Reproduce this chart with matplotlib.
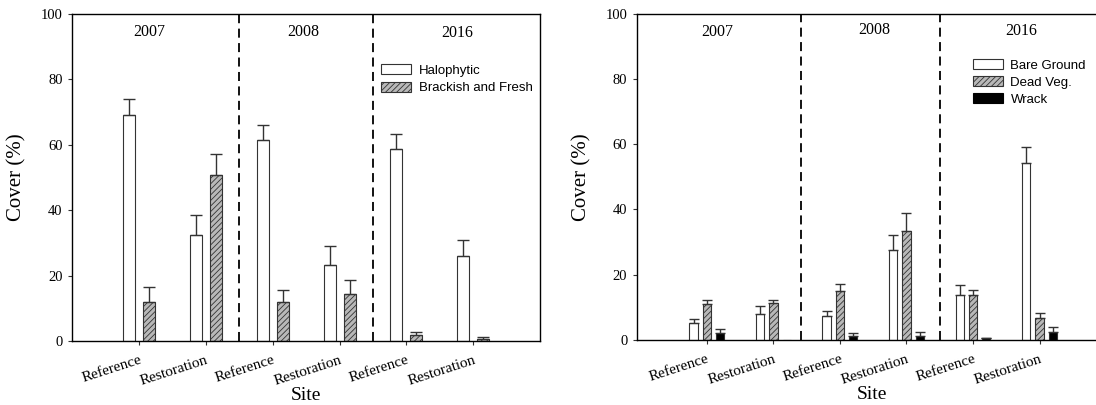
import numpy as np
import matplotlib
matplotlib.use("Agg")
import matplotlib.pyplot as plt

# sites along the x axis, two per year
site_labels = ["Reference", "Restoration", "Reference", "Restoration", "Reference", "Restoration"]
years = ["2007", "2008", "2016"]

# left panel: vegetation cover
halo = [69.0, 32.5, 61.5, 23.2, 58.5, 26.1]
halo_se = [4.8, 5.9, 4.4, 5.8, 4.8, 4.7]
brack = [11.8, 50.7, 11.8, 14.5, 1.8, 0.7]
brack_se = [4.6, 6.3, 3.7, 4.0, 1.0, 0.6]

# right panel: non-vegetated cover
bare = [5.2, 8.0, 7.4, 27.5, 13.7, 54.2]
bare_se = [1.3, 2.3, 1.5, 4.6, 3.1, 5.0]
dead = [10.9, 11.2, 15.1, 33.5, 13.7, 6.8]
dead_se = [1.3, 1.0, 2.1, 5.5, 1.6, 1.4]
wrack = [2.2, 0.0, 1.3, 1.3, 0.5, 2.4]
wrack_se = [1.2, 0.0, 0.8, 1.2, 0.1, 1.5]

SERIF = "Liberation Serif"
SANS = "Liberation Sans"
EDGE = "#333333"
HATCH_FILL = "#b8b8b8"

plt.rcParams["hatch.linewidth"] = 0.6


def draw_bars(ax, x, vals, se, width, face, hatch, capsize):
    ax.bar(x, vals, width, color=face, edgecolor=EDGE, linewidth=0.8,
           hatch=hatch, zorder=2)
    vals = np.asarray(vals)
    se = np.asarray(se)
    keep = vals > 0
    ax.errorbar(x[keep], vals[keep], yerr=[np.zeros(keep.sum()), se[keep]],
                fmt="none", ecolor=EDGE, elinewidth=1.0, capsize=capsize,
                capthick=1.0, zorder=3)


def style_axes(ax, divs, year_x, year_y, xlim):
    ax.set_xlim(*xlim)
    ax.set_ylim(0, 100)
    ax.set_yticks(np.arange(0, 101, 20))
    ax.set_yticklabels([str(v) for v in range(0, 101, 20)], family=SERIF, fontsize=10.5)
    ax.set_xticks(pos)
    ax.set_xticklabels(site_labels, rotation=18, ha="right", rotation_mode="anchor",
                       family=SERIF, fontsize=11)
    ax.tick_params(axis="both", direction="out", length=3, width=0.8, pad=4, color=EDGE)
    ax.tick_params(axis="x", pad=6)
    for s in ax.spines.values():
        s.set_linewidth(1.0)
    for d in divs:
        ax.axvline(d, color="black", linestyle=(0, (5, 3)), linewidth=1.3, zorder=1)
    for yr, xx, yy in zip(years, year_x, year_y):
        ax.text(xx, yy, yr, ha="center", va="center", family=SERIF, fontsize=11.5)
    ax.set_ylabel("Cover (%)", family=SERIF, fontsize=15, labelpad=10)
    ax.set_xlabel("Site", family=SERIF, fontsize=14)
    ax.xaxis.set_label_coords(0.5, -0.14)


pos = np.arange(1, len(site_labels) + 1)

fig = plt.figure(figsize=(10.96, 4.05), dpi=100)

# left panel
ax1 = fig.add_axes([0.066, 0.158, 0.4267, 0.8086])
draw_bars(ax1, pos - 0.15, halo, halo_se, 0.18, "white", None, 4.3)
draw_bars(ax1, pos + 0.15, brack, brack_se, 0.18, HATCH_FILL, "//////", 4.3)
style_axes(ax1, [2.5, 4.5], [1.15, 3.46, 5.76], [94.4, 94.4, 94.0], (0, 7))
h1 = [plt.Rectangle((0, 0), 1, 1, facecolor="white", edgecolor=EDGE, linewidth=0.8),
      plt.Rectangle((0, 0), 1, 1, facecolor=HATCH_FILL, edgecolor=EDGE, linewidth=0.8,
                    hatch="//////")]
ax1.legend(h1, ["Halophytic", "Brackish and Fresh"], loc="upper left",
           bbox_to_anchor=(0.66, 0.845), frameon=False, borderpad=0, borderaxespad=0,
           handlelength=2.3, handleheight=0.75, handletextpad=0.55, labelspacing=0.4,
           prop={"family": SANS, "size": 9.5})

# right panel, runs off the right edge of the figure like the source
ax2 = fig.add_axes([0.5812, 0.1605, 0.428, 0.806])
draw_bars(ax2, pos - 0.2, bare, bare_se, 0.125, "white", None, 3.6)
draw_bars(ax2, pos, dead, dead_se, 0.125, HATCH_FILL, "//////", 3.6)
draw_bars(ax2, pos + 0.2, wrack, wrack_se, 0.125, "black", None, 3.6)
style_axes(ax2, [2.42, 4.5], [1.16, 3.52, 5.72], [94.3, 95.0, 94.8], (-0.05, 7))
h2 = [plt.Rectangle((0, 0), 1, 1, facecolor="white", edgecolor=EDGE, linewidth=0.8),
      plt.Rectangle((0, 0), 1, 1, facecolor=HATCH_FILL, edgecolor=EDGE, linewidth=0.8,
                    hatch="//////"),
      plt.Rectangle((0, 0), 1, 1, facecolor="black", edgecolor="black", linewidth=0.8)]
ax2.legend(h2, ["Bare Ground", "Dead Veg.", "Wrack"], loc="upper left",
           bbox_to_anchor=(0.716, 0.86), frameon=False, borderpad=0, borderaxespad=0,
           handlelength=2.3, handleheight=0.75, handletextpad=0.55, labelspacing=0.35,
           prop={"family": SANS, "size": 9.5})

fig.savefig("out.png", dpi=100)
